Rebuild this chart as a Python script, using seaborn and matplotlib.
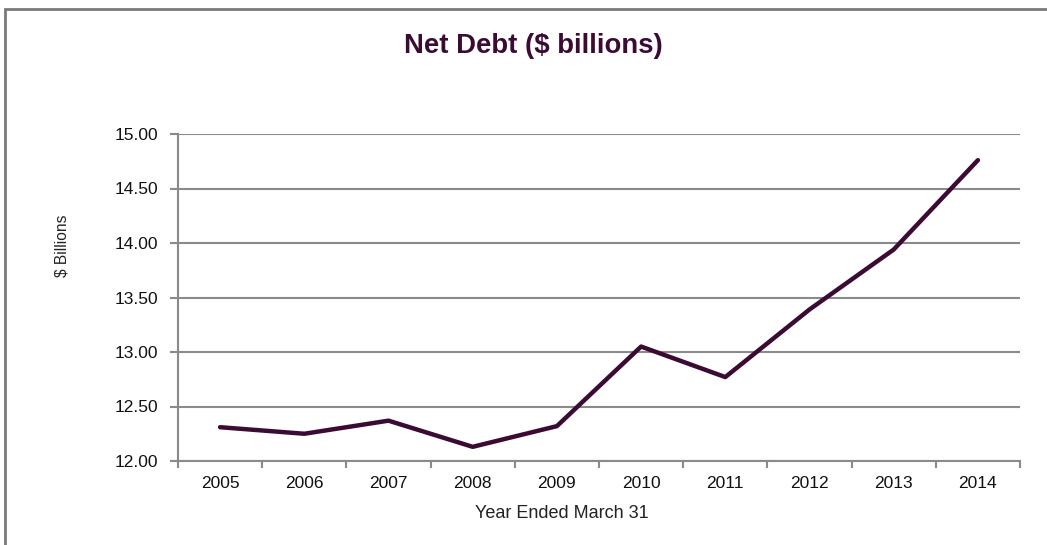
import matplotlib
matplotlib.use("Agg")
import matplotlib.pyplot as plt
import seaborn as sns
import pandas as pd
from matplotlib.patches import Rectangle
from matplotlib.ticker import FixedLocator

years = ["2005", "2006", "2007", "2008", "2009", "2010", "2011", "2012", "2013", "2014"]
net_debt = [12.31, 12.25, 12.37, 12.13, 12.32, 13.05, 12.77, 13.39, 13.94, 14.76]
y_ticks = [12.0, 12.5, 13.0, 13.5, 14.0, 14.5, 15.0]

sns.set_theme(style="white")
plt.rcParams['font.family'] = ['Liberation Sans', 'DejaVu Sans']

W, H = 1047, 545
fig = plt.figure(figsize=(W / 100, H / 100), dpi=100)
ax = fig.add_axes([178 / W, 1 - 461 / H, (1020 - 178) / W, (461 - 134) / H])

df = pd.DataFrame({"year": years, "debt": net_debt})
line_color = "#3c0b34"
grid_color = "#8a8a8a"

sns.lineplot(data=df, x="year", y="debt", ax=ax, color=line_color, linewidth=3.2,
             sort=False, zorder=3)

ax.set_xlim(-0.5, len(years) - 0.5)
ax.set_ylim(12.0, 15.0)
ax.set_yticks(y_ticks)
ax.set_yticklabels([f"{v:.2f}" for v in y_ticks])
ax.set_xticks(range(len(years)))
ax.set_xticklabels(years)
ax.xaxis.set_minor_locator(FixedLocator([i - 0.5 for i in range(len(years) + 1)]))

ax.tick_params(axis="x", which="major", length=0, labelsize=12.5, colors="#111111", pad=11)
ax.tick_params(axis="x", which="minor", length=5, width=1.5, color=grid_color, direction="out", bottom=True)
ax.tick_params(axis="y", which="major", length=6, width=1.5, color=grid_color, labelsize=12.5,
               labelcolor="#111111", direction="out", left=True, pad=8)

ax.grid(axis="y", color=grid_color, linewidth=1.5)
ax.grid(axis="x", visible=False)
ax.set_axisbelow(True)
for side in ["top", "right"]:
    ax.spines[side].set_visible(False)
for side in ["left", "bottom"]:
    ax.spines[side].set_color(grid_color)
    ax.spines[side].set_linewidth(1.5)

ax.set_xlabel("")
ax.set_ylabel("")
fig.text(562 / W, 1 - 513 / H, "Year Ended March 31", ha="center", va="center",
         fontsize=13, color="#222222")
fig.text(62 / W, 1 - 246 / H, "$ Billions", rotation=90, ha="center", va="center",
         fontsize=11.2, color="#222222")

fig.text(533 / W, 1 - 46 / H, "Net Debt ($ billions)", ha="center", va="center",
         fontsize=19.8, fontweight="bold", color="#3c0b34")

fig.patches.append(Rectangle((5 / W, -0.1), 1.2, 1 - 9 / H + 0.1, transform=fig.transFigure,
                             fill=False, edgecolor="#7a7a7a", linewidth=2, zorder=0))

fig.savefig("out.png", dpi=100)
